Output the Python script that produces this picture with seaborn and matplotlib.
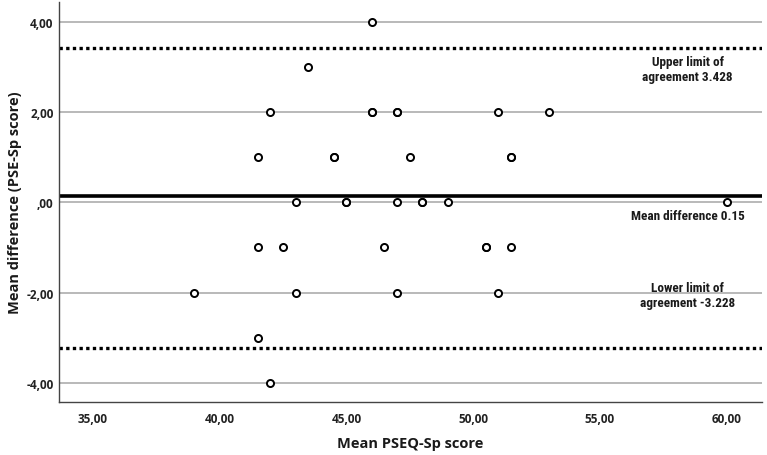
import matplotlib
matplotlib.use("Agg")
import matplotlib.pyplot as plt
import seaborn as sns
import pandas as pd
from matplotlib import font_manager

# Data
mean_score = [46, 43.5, 42, 46, 46, 47, 47, 51, 53,
              41.5, 44.5, 44.5, 47.5, 51.5, 51.5,
              43, 45, 45, 47, 48, 48, 49, 60,
              41.5, 42.5, 46.5, 50.5, 50.5, 51.5,
              39, 43, 47, 51,
              41.5, 42]
difference = [4, 3, 2, 2, 2, 2, 2, 2, 2,
              1, 1, 1, 1, 1, 1,
              0, 0, 0, 0, 0, 0, 0, 0,
              -1, -1, -1, -1, -1, -1,
              -2, -2, -2, -2,
              -3, -4]
mean_diff = 0.15
upper_loa = 3.428
lower_loa = -3.228
y_ticks = [-4, -2, 0, 2, 4]
y_tick_labels = ["-4,00", "-2,00", ",00", "2,00", "4,00"]
x_ticks = [35, 40, 45, 50, 55, 60]
x_tick_labels = ["35,00", "40,00", "45,00", "50,00", "55,00", "60,00"]

df = pd.DataFrame({"mean": mean_score, "diff": difference})

sns.set_theme(style="white")
names = {f.name for f in font_manager.fontManager.ttflist}
narrow = None
for cand in ["Liberation Sans Narrow", "DejaVu Sans Condensed", "Roboto Condensed", "Open Sans Condensed"]:
    if cand in names:
        narrow = cand
        break
if narrow is None:
    narrow = "DejaVu Sans"
plt.rcParams['font.family'] = ['Open Sans', 'DejaVu Sans']

fig = plt.figure(figsize=(7.67, 4.56), dpi=100)
ax = fig.add_axes([0.0769, 0.116, 0.9166, 0.877])

for t in y_ticks:
    ax.axhline(t, color="#a6a6a6", lw=1.1, zorder=1)
ax.axhline(mean_diff, color="black", lw=2.6, zorder=2)
ax.axhline(upper_loa, color="black", lw=2.4, ls=(0, (1, 1)), zorder=2)
ax.axhline(lower_loa, color="black", lw=2.4, ls=(0, (1, 1)), zorder=2)

sns.scatterplot(data=df, x="mean", y="diff", ax=ax, marker="o", s=26,
                facecolor="white", edgecolor="black", linewidth=1.4, zorder=3)

ax.set_xlim(33.66, 61.4)
ax.set_ylim(-4.43, 4.44)
ax.set_xticks(x_ticks)
ax.set_xticklabels(x_tick_labels, fontsize=8.5, fontweight="bold", color="#222222")
ax.set_yticks(y_ticks)
ax.set_yticklabels(y_tick_labels, fontsize=8.5, fontweight="bold", color="#222222")
ax.tick_params(axis="x", length=0, pad=7)
ax.tick_params(axis="y", length=0, pad=4)

ax.set_xlabel("Mean PSEQ-Sp score", fontsize=10.5, fontweight="bold", labelpad=8, color="#1a1a1a")
ax.set_ylabel("Mean difference (PSE-Sp score)", fontsize=10.5, fontweight="bold", labelpad=3, color="#1a1a1a")

for sp in ["top", "right"]:
    ax.spines[sp].set_visible(False)
for sp in ["left", "bottom"]:
    ax.spines[sp].set_color("#444444")
    ax.spines[sp].set_linewidth(1.0)

fam = [narrow, "DejaVu Sans"]
ax.text(58.46, 2.96, "Upper limit of\nagreement 3.428", ha="center", va="center",
        fontsize=9.5, fontweight="bold", family=fam, linespacing=1.15, color="#1a1a1a")
ax.text(58.46, -0.29, "Mean difference 0.15", ha="center", va="center",
        fontsize=9.5, fontweight="bold", family=fam, color="#1a1a1a")
ax.text(58.46, -2.05, "Lower limit of\nagreement -3.228", ha="center", va="center",
        fontsize=9.5, fontweight="bold", family=fam, linespacing=1.15, color="#1a1a1a")

fig.savefig("out.png", dpi=100)
